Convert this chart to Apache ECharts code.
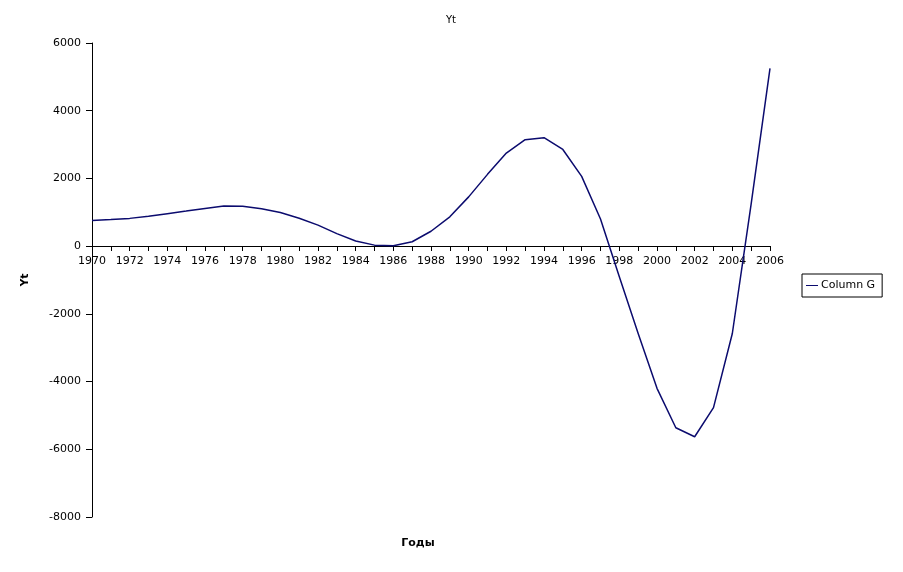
<!DOCTYPE html>
<html><head><meta charset="utf-8">
<script src="https://cdn.jsdelivr.net/npm/echarts@6/dist/echarts.min.js"></script>
<style>html,body{margin:0;padding:0;background:#fff}#c{width:903px;height:572px}</style>
</head><body><div id="c"></div>
<script>
const years = [1970,1971,1972,1973,1974,1975,1976,1977,1978,1979,1980,1981,1982,1983,1984,1985,1986,1987,1988,1989,1990,1991,1992,1993,1994,1995,1996,1997,1998,1999,2000,2001,2002,2003,2004,2005,2006];
const columnG = [760,785,820,885,960,1035,1115,1185,1180,1105,995,825,620,370,150,30,10,130,440,865,1455,2120,2750,3145,3205,2855,2060,800,-905,-2580,-4200,-5365,-5630,-4770,-2580,1250,5250];
const yTicks = {min:-8000, max:6000, step:2000};
const xTicks = {min:1970, max:2006, step:2};
const font = 'DejaVu Sans';
const chart = echarts.init(document.getElementById('c'));
chart.setOption({
  animation:false,
  backgroundColor:'#fff',
  textStyle:{fontFamily:font},
  title:[
    {text:'Yt', left:446, top:10, textAlign:'center', textStyle:{fontFamily:font, fontSize:10, fontWeight:'normal', color:'#000'}},
    {text:'Годы', left:413, top:533, textAlign:'center', textStyle:{fontFamily:font, fontSize:11, fontWeight:'bold', color:'#000'}}
  ],
  legend:{
    left:802, top:274, orient:'vertical',
    borderColor:'#000', borderWidth:1, borderRadius:0,
    padding:[6,7,6,4], itemWidth:12, itemHeight:1, itemGap:0,
    icon:'rect',
    textStyle:{fontFamily:font, fontSize:11, color:'#000', padding:[0,0,0,-2]},
    data:['Column G']
  },
  grid:{left:92, right:133, top:43, bottom:55, containLabel:false},
  xAxis:{
    type:'value', min:xTicks.min, max:xTicks.max, interval:xTicks.step,
    position:'bottom', offset:-271,
    axisLine:{onZero:false, lineStyle:{color:'#000', width:1}},
    axisTick:{show:true, inside:false, length:5, lineStyle:{color:'#000'}},
    minorTick:{show:true, splitNumber:2, length:5, lineStyle:{color:'#000'}},
    axisLabel:{color:'#000', fontSize:11, fontFamily:font, margin:10, formatter:v=>String(v), showMinLabel:true, showMaxLabel:true},
    splitLine:{show:false}
  },
  yAxis:{
    type:'value', min:yTicks.min, max:yTicks.max, interval:yTicks.step,
    name:'Yt', nameLocation:'middle', nameGap:61, nameRotate:90,
    nameTextStyle:{fontFamily:font, fontSize:11, fontWeight:'bold', color:'#000'},
    axisLine:{show:true, lineStyle:{color:'#000', width:1}},
    axisTick:{show:true, inside:false, length:6, lineStyle:{color:'#000'}},
    axisLabel:{color:'#000', fontSize:11, fontFamily:font, margin:11, formatter:v=>String(v)},
    splitLine:{show:false}
  },
  series:[{
    name:'Column G', type:'line', showSymbol:false, symbol:'none',
    data: years.map((y,i)=>[y, columnG[i]]),
    lineStyle:{color:'#0b0b6e', width:1.5},
    itemStyle:{color:'#0b0b6e'}
  }]
});
</script></body></html>
